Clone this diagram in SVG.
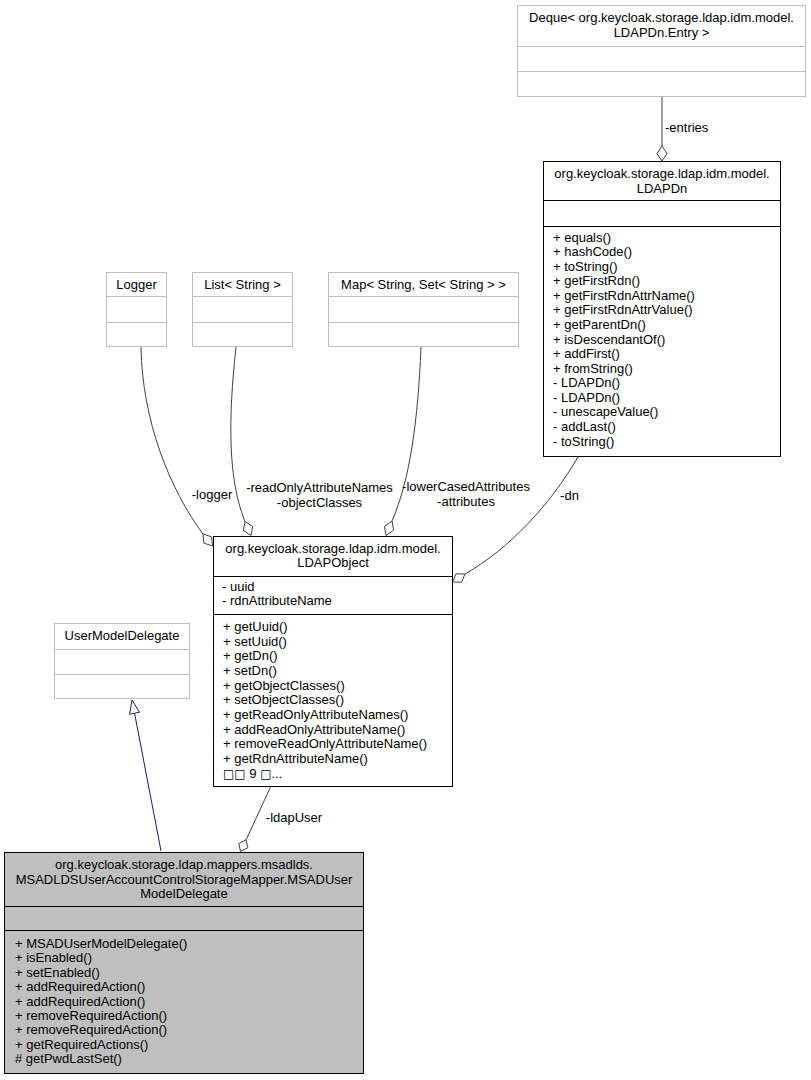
<svg xmlns="http://www.w3.org/2000/svg" width="811" height="1080" viewBox="0 0 811 1080">
<style>
text{font-family:"Liberation Sans",Arial,Helvetica,sans-serif;font-size:13px;fill:#000}
.c{text-anchor:middle}
.sq{font-family:"DejaVu Sans",sans-serif;font-size:12px}
.ext{fill:#fff;stroke:#bfbfbf;stroke-width:1}
.cls{fill:#fff;stroke:#000;stroke-width:1}
.main{fill:#bfbfbf;stroke:#000;stroke-width:1}
.dext{stroke:#bfbfbf;stroke-width:1}
.dcls{stroke:#000;stroke-width:1}
.edge{fill:none;stroke:#404040;stroke-width:1}
.dia{fill:#fff;stroke:#404040;stroke-width:1}
.gen{fill:none;stroke:#191970;stroke-width:1}
.genh{fill:#fff;stroke:#191970;stroke-width:1}
</style>
<rect width="811" height="1080" fill="#fff"/>
<g id="connectors">
<path class="edge" d="M662,97 L662,146"/>
<polygon class="dia" points="662,146 667,153.5 662,161 657,153.5"/>
<text x="665" y="132">-entries</text>
<path class="edge" d="M141,347 C142,420 170,490 203,534"/>
<polygon class="dia" points="203,534 211.7,536.9 212.5,546 203.8,543.1"/>
<text class="c" x="212" y="499">-logger</text>
<path class="edge" d="M236,347 C228,420 228,480 245,521.5"/>
<polygon class="dia" points="245,521.5 252.6,526.5 251,535.5 243.4,530.5"/>
<text class="c" x="319.5" y="491.5">-readOnlyAttributeNames</text>
<text class="c" x="319.5" y="506.5">-objectClasses</text>
<path class="edge" d="M421,347 C418,420 410,480 392,521"/>
<polygon class="dia" points="392,521 393.6,530.2 386,535.5 384.4,526.3"/>
<text class="c" x="466" y="491">-lowerCasedAttributes</text>
<text class="c" x="466" y="506">-attributes</text>
<path class="edge" d="M578,457 C550,505 510,548 465,574"/>
<polygon class="dia" points="465,574 461.5,582.2 452.5,582 456.1,573.8"/>
<text class="c" x="569.5" y="499.5">-dn</text>
<path class="edge" d="M270.5,787 L246.1,839.8"/>
<polygon class="dia" points="246.1,839.8 247.8,847.8 240.5,851.5 238.8,843.5"/>
<text class="c" x="294" y="822">-ldapUser</text>
<path class="gen" d="M161,851 L134.6,713.3"/>
<polygon class="genh" points="132,700 139.5,712.3 129.6,714.2"/>
</g>
<g id="node-deque">
<rect class="ext" x="517.5" y="5.5" width="288" height="91"/>
<line class="dext" x1="517.5" y1="46.5" x2="805.5" y2="46.5"/>
<line class="dext" x1="517.5" y1="71.5" x2="805.5" y2="71.5"/>
<text class="c" x="661.5" y="22">Deque&lt; org.keycloak.storage.ldap.idm.model.</text>
<text class="c" x="661.5" y="36.5">LDAPDn.Entry &gt;</text>
</g>
<g id="node-ldapdn">
<rect class="cls" x="543.5" y="161.5" width="237" height="295"/>
<line class="dcls" x1="543.5" y1="200.5" x2="780.5" y2="200.5"/>
<line class="dcls" x1="543.5" y1="226.5" x2="780.5" y2="226.5"/>
<text class="c" x="662" y="178">org.keycloak.storage.ldap.idm.model.</text>
<text class="c" x="662" y="192.5">LDAPDn</text>
<text x="553" y="241.5">+ equals()</text>
<text x="553" y="256.1">+ hashCode()</text>
<text x="553" y="270.6">+ toString()</text>
<text x="553" y="285.2">+ getFirstRdn()</text>
<text x="553" y="299.8">+ getFirstRdnAttrName()</text>
<text x="553" y="314.4">+ getFirstRdnAttrValue()</text>
<text x="553" y="328.9">+ getParentDn()</text>
<text x="553" y="343.5">+ isDescendantOf()</text>
<text x="553" y="358.1">+ addFirst()</text>
<text x="553" y="372.6">+ fromString()</text>
<text x="553" y="387.2">- LDAPDn()</text>
<text x="553" y="401.8">- LDAPDn()</text>
<text x="553" y="416.3">- unescapeValue()</text>
<text x="553" y="430.9">- addLast()</text>
<text x="553" y="445.5">- toString()</text>
</g>
<g id="node-logger">
<rect class="ext" x="106.5" y="272.5" width="60" height="74"/>
<line class="dext" x1="106.5" y1="296.5" x2="166.5" y2="296.5"/>
<line class="dext" x1="106.5" y1="322.5" x2="166.5" y2="322.5"/>
<text class="c" x="136.5" y="288.5">Logger</text>
</g>
<g id="node-list">
<rect class="ext" x="192.5" y="272.5" width="100" height="74"/>
<line class="dext" x1="192.5" y1="296.5" x2="292.5" y2="296.5"/>
<line class="dext" x1="192.5" y1="322.5" x2="292.5" y2="322.5"/>
<text class="c" x="242.5" y="288.5">List&lt; String &gt;</text>
</g>
<g id="node-map">
<rect class="ext" x="328.5" y="272.5" width="190" height="74"/>
<line class="dext" x1="328.5" y1="296.5" x2="518.5" y2="296.5"/>
<line class="dext" x1="328.5" y1="322.5" x2="518.5" y2="322.5"/>
<text class="c" x="423.5" y="288.5">Map&lt; String, Set&lt; String &gt; &gt;</text>
</g>
<g id="node-ldapobject">
<rect class="cls" x="213.5" y="536.5" width="239" height="250"/>
<line class="dcls" x1="213.5" y1="576.5" x2="452.5" y2="576.5"/>
<line class="dcls" x1="213.5" y1="614.5" x2="452.5" y2="614.5"/>
<text class="c" x="333" y="552.5">org.keycloak.storage.ldap.idm.model.</text>
<text class="c" x="333" y="567">LDAPObject</text>
<text x="222" y="590.5">- uuid</text>
<text x="222" y="605">- rdnAttributeName</text>
<text x="223" y="631">+ getUuid()</text>
<text x="223" y="645.7">+ setUuid()</text>
<text x="223" y="660.3">+ getDn()</text>
<text x="223" y="675">+ setDn()</text>
<text x="223" y="689.6">+ getObjectClasses()</text>
<text x="223" y="704.3">+ setObjectClasses()</text>
<text x="223" y="719">+ getReadOnlyAttributeNames()</text>
<text x="223" y="733.6">+ addReadOnlyAttributeName()</text>
<text x="223" y="748.3">+ removeReadOnlyAttributeName()</text>
<text x="223" y="762.9">+ getRdnAttributeName()</text>
<text x="223" y="777.6"><tspan class="sq">□□</tspan> 9 <tspan class="sq">□</tspan>...</text>
</g>
<g id="node-usermodeldelegate">
<rect class="ext" x="54.5" y="623.5" width="135" height="75"/>
<line class="dext" x1="54.5" y1="649.5" x2="189.5" y2="649.5"/>
<line class="dext" x1="54.5" y1="674.5" x2="189.5" y2="674.5"/>
<text class="c" x="122" y="640">UserModelDelegate</text>
</g>
<g id="node-msadusermodeldelegate">
<rect class="main" x="4.5" y="852.5" width="359" height="221"/>
<line class="dcls" x1="4.5" y1="906.5" x2="363.5" y2="906.5"/>
<line class="dcls" x1="4.5" y1="930.5" x2="363.5" y2="930.5"/>
<text class="c" x="184" y="869">org.keycloak.storage.ldap.mappers.msadlds.</text>
<text class="c" x="184" y="883.5">MSADLDSUserAccountControlStorageMapper.MSADUser</text>
<text class="c" x="184" y="898">ModelDelegate</text>
<text x="15" y="948">+ MSADUserModelDelegate()</text>
<text x="15" y="962.4">+ isEnabled()</text>
<text x="15" y="976.8">+ setEnabled()</text>
<text x="15" y="991.2">+ addRequiredAction()</text>
<text x="15" y="1005.6">+ addRequiredAction()</text>
<text x="15" y="1020">+ removeRequiredAction()</text>
<text x="15" y="1034.4">+ removeRequiredAction()</text>
<text x="15" y="1048.8">+ getRequiredActions()</text>
<text x="15" y="1063.2"># getPwdLastSet()</text>
</g>
</svg>
